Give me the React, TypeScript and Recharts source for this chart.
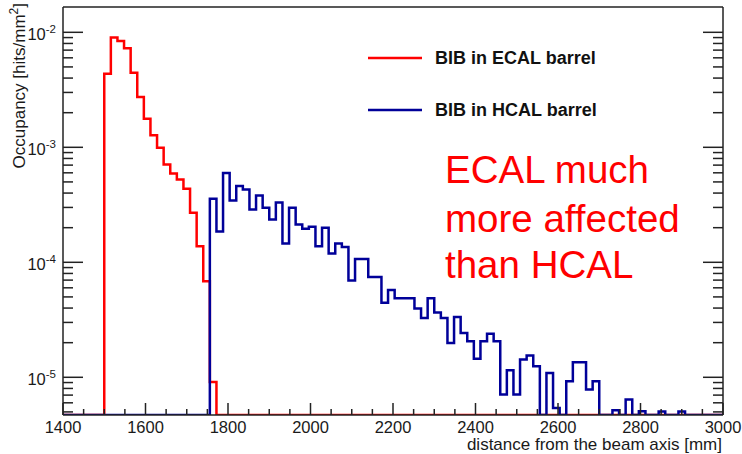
import { Legend, Line, LineChart, XAxis, YAxis } from "recharts";

const X_MIN = 1400;
const X_MAX = 3000;
const Y_MIN = 4.7e-6;
const Y_MAX = 0.0166;

const BIN_WIDTH = 16;
const ECAL_START = 1500;
const HCAL_START = 1756;

// occupancy per bin [hits/mm^2], 0 = empty bin
const ecalBarrel = [
  4.37e-3, 9.0e-3, 8.4e-3, 7.26e-3, 4.46e-3, 2.74e-3, 1.77e-3, 1.27e-3, 9.9e-4,
  7.1e-4, 5.93e-4, 5.26e-4, 4.36e-4, 2.7e-4, 1.38e-4, 6.85e-5, 9.1e-6,
];

const hcalBarrel = [
  3.57e-4, 1.85e-4, 5.99e-4, 3.45e-4, 4.6e-4, 4.3e-4, 2.88e-4, 3.81e-4, 2.98e-4, 2.36e-4,
  3.31e-4, 1.46e-4, 2.98e-4, 2.13e-4, 1.96e-4, 2.04e-4, 1.38e-4, 2.0e-4, 1.19e-4, 1.46e-4,
  1.36e-4, 6.94e-5, 1.07e-4, 1.07e-4, 7.45e-5, 7.45e-5, 4.44e-5, 5.74e-5, 4.86e-5, 4.86e-5,
  4.86e-5, 3.96e-5, 3.27e-5, 4.86e-5, 3.66e-5, 3.27e-5, 1.99e-5, 3.35e-5, 2.43e-5, 2.06e-5,
  1.45e-5, 2.06e-5, 2.39e-5, 2.06e-5, 7.07e-6, 1.15e-5, 7.07e-6, 1.43e-5, 1.55e-5, 1.25e-5,
  0, 1.09e-5, 5.42e-6, 0, 9.23e-6, 1.35e-5, 1.35e-5, 7.82e-6, 9.23e-6, 0,
  0, 5.16e-6, 0, 6.4e-6, 0, 5.06e-6, 0, 0, 5.03e-6, 0,
  0, 5.03e-6,
];

const X_LABELS = [1400, 1600, 1800, 2000, 2200, 2400, 2600, 2800, 3000];
const Y_DECADES = [1e-5, 1e-4, 1e-3, 1e-2];
const Y_MINOR = [2, 3, 4, 5, 6, 7, 8, 9];

const ECAL_COLOR = "#ff0000";
const HCAL_COLOR = "#000099";
const AXIS_COLOR = "#222";
const FONT = "'Liberation Sans', Arial, Helvetica, sans-serif";

const xTicks: number[] = [];
for (let v = X_MIN; v <= X_MAX; v += 50) xTicks.push(v);

const yTicks: number[] = [];
[1e-6, ...Y_DECADES].forEach((d) => {
  if (d >= Y_MIN) yTicks.push(d);
  Y_MINOR.forEach((m) => {
    const v = m * d;
    if (v >= Y_MIN && v <= Y_MAX) yTicks.push(v);
  });
});

function toSteps(values: number[], start: number) {
  const pts = [{ x: X_MIN, y: Y_MIN }];
  values.forEach((v, i) => pts.push({ x: start + i * BIN_WIDTH, y: v > 0 ? v : Y_MIN }));
  pts.push({ x: start + values.length * BIN_WIDTH, y: Y_MIN });
  pts.push({ x: X_MAX, y: Y_MIN });
  return pts;
}

const ecalSteps = toSteps(ecalBarrel, ECAL_START);
const hcalSteps = toSteps(hcalBarrel, HCAL_START);

const isDecade = (v: number) => Math.abs(Math.log10(v) - Math.round(Math.log10(v))) < 1e-6;
const isLabelled = (v: number) => X_LABELS.includes(v);

function BottomTick(props: any) {
  const { x, y, payload } = props;
  const big = isLabelled(payload.value);
  return (
    <g>
      <line x1={x} x2={x} y1={y} y2={y - (big ? 12 : 6)} stroke={AXIS_COLOR} strokeWidth={1.5} />
      {big && (
        <text x={x} y={y + 18} textAnchor="middle" fontSize={16.5} fontFamily={FONT} fill="#1a1a1a">
          {payload.value}
        </text>
      )}
    </g>
  );
}

function TopTick(props: any) {
  const { x, y, payload } = props;
  const big = isLabelled(payload.value);
  return <line x1={x} x2={x} y1={y} y2={y + (big ? 12 : 6)} stroke={AXIS_COLOR} strokeWidth={1.5} />;
}

function LeftTick(props: any) {
  const { x, y, payload } = props;
  const major = isDecade(payload.value);
  return (
    <g>
      <line x1={x} x2={x + (major ? 20 : 10)} y1={y} y2={y} stroke={AXIS_COLOR} strokeWidth={1.5} />
      {major && (
        <text x={x - 7} y={y + 8} textAnchor="end" fontSize={16.5} fontFamily={FONT} fill="#1a1a1a">
          10
          <tspan dy={-7} fontSize={11.5}>
            {Math.round(Math.log10(payload.value))}
          </tspan>
        </text>
      )}
    </g>
  );
}

function RightTick(props: any) {
  const { x, y, payload } = props;
  const major = isDecade(payload.value);
  return <line x1={x} x2={x - (major ? 20 : 10)} y1={y} y2={y} stroke={AXIS_COLOR} strokeWidth={1.5} />;
}

function renderLegend(props: any) {
  return (
    <div style={{ fontFamily: FONT }}>
      {(props.payload || []).map((entry: any) => (
        <div key={entry.value} style={{ display: "flex", alignItems: "center", height: 52 }}>
          <svg width={54} height={4}>
            <line x1={0} x2={54} y1={2} y2={2} stroke={entry.color} strokeWidth={2.5} />
          </svg>
          <span style={{ marginLeft: 13, fontWeight: 700, fontSize: 18, color: "#111", whiteSpace: "nowrap" }}>
            {entry.value}
          </span>
        </div>
      ))}
    </div>
  );
}

export default function App() {
  return (
    <div style={{ position: "absolute", left: 0, top: 0, width: 742, height: 454, background: "#fff" }}>
      <LineChart width={742} height={454} margin={{ top: 6, right: 18, bottom: 38, left: 62 }}>
        <XAxis
          xAxisId="b"
          dataKey="x"
          type="number"
          domain={[X_MIN, X_MAX]}
          ticks={xTicks}
          interval={0}
          height={1}
          tickSize={0}
          tickMargin={0}
          tickLine={false}
          tick={BottomTick}
          axisLine={{ stroke: AXIS_COLOR, strokeWidth: 1.5 }}
          allowDataOverflow
        />
        <XAxis
          xAxisId="t"
          orientation="top"
          type="number"
          domain={[X_MIN, X_MAX]}
          ticks={xTicks}
          interval={0}
          height={1}
          tickSize={0}
          tickMargin={0}
          tickLine={false}
          tick={TopTick}
          axisLine={{ stroke: AXIS_COLOR, strokeWidth: 1.5 }}
          allowDataOverflow
        />
        <YAxis
          yAxisId="l"
          type="number"
          scale="log"
          domain={[Y_MIN, Y_MAX]}
          ticks={yTicks}
          interval={0}
          width={1}
          tickSize={0}
          tickMargin={0}
          tickLine={false}
          tick={LeftTick}
          axisLine={{ stroke: AXIS_COLOR, strokeWidth: 1.5 }}
          allowDataOverflow
        />
        <YAxis
          yAxisId="r"
          orientation="right"
          type="number"
          scale="log"
          domain={[Y_MIN, Y_MAX]}
          ticks={yTicks}
          interval={0}
          width={1}
          tickSize={0}
          tickMargin={0}
          tickLine={false}
          tick={RightTick}
          axisLine={{ stroke: AXIS_COLOR, strokeWidth: 1.5 }}
          allowDataOverflow
        />
        <Legend
          layout="vertical"
          align="center"
          verticalAlign="middle"
          content={renderLegend}
          wrapperStyle={{ left: 368, top: 32, width: "auto" }}
        />
        <Line
          xAxisId="b"
          yAxisId="l"
          data={ecalSteps}
          dataKey="y"
          name="BIB in ECAL barrel"
          type="stepAfter"
          stroke={ECAL_COLOR}
          strokeWidth={2.5}
          dot={false}
          activeDot={false}
          isAnimationActive={false}
        />
        <Line
          xAxisId="b"
          yAxisId="l"
          data={hcalSteps}
          dataKey="y"
          name="BIB in HCAL barrel"
          type="stepAfter"
          stroke={HCAL_COLOR}
          strokeWidth={2.5}
          dot={false}
          activeDot={false}
          isAnimationActive={false}
        />
      </LineChart>
      <svg
        width={742}
        height={454}
        style={{ position: "absolute", left: 0, top: 0, pointerEvents: "none" }}
        fontFamily={FONT}
      >
        <text transform="translate(24.5, 3) rotate(-90)" textAnchor="end" fontSize={17} fill="#1a1a1a">
          <tspan>Occupancy [hits/mm</tspan>
          <tspan dy={-7} fontSize={12}>2</tspan>
          <tspan dy={7}>]</tspan>
        </text>
        <text x={722} y={450} textAnchor="end" fontSize={17} fill="#1a1a1a">
          distance from the beam axis [mm]
        </text>
        <g fontSize={38.5} fill={ECAL_COLOR}>
          <text x={445} y={183}>ECAL much</text>
          <text x={445} y={231.5}>more affected</text>
          <text x={445} y={278}>than HCAL</text>
        </g>
      </svg>
    </div>
  );
}
